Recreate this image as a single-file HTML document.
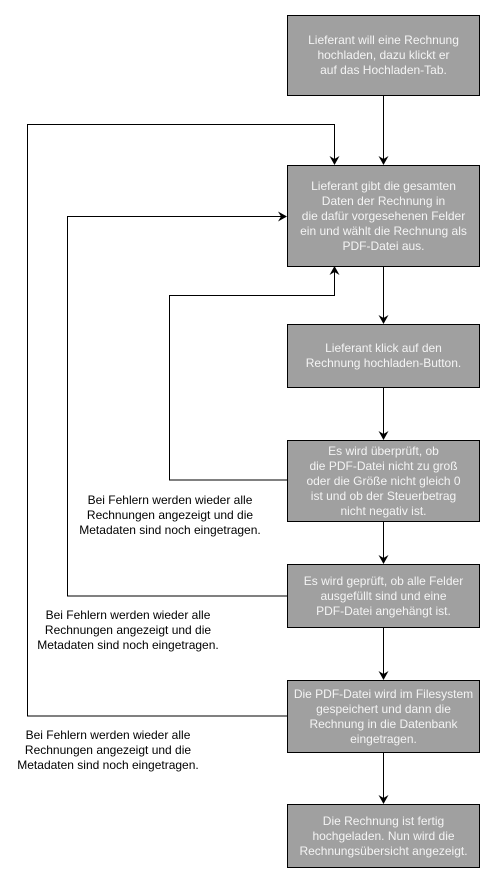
<!DOCTYPE html>
<html><head><meta charset="utf-8"><style>
body{margin:0;background:#fff;width:495px;height:883px;overflow:hidden;font-family:"Liberation Sans",sans-serif}
.b{position:absolute;left:287px;width:191px;background:#a0a0a0;border:1px solid #000;color:#f4f4f4;font-size:12px;line-height:15px;text-align:center;display:flex;align-items:center;justify-content:center}
.l{position:absolute;font-size:12px;line-height:15px;text-align:center;color:#000;width:240px}
</style></head><body>
<svg width="495" height="883" style="position:absolute;left:0;top:0">
<defs><marker id="a" markerWidth="10" markerHeight="10" refX="8" refY="5" orient="auto" markerUnits="userSpaceOnUse"><path d="M0,0 L9,5 L0,10 L3,5 Z" fill="#000"/></marker></defs>
<g stroke="#000" stroke-width="1" fill="none">
<path d="M383.5 95 V164" marker-end="url(#a)"/>
<path d="M383.5 266 V323" marker-end="url(#a)"/>
<path d="M383.5 387 V439" marker-end="url(#a)"/>
<path d="M383.5 521 V563" marker-end="url(#a)"/>
<path d="M383.5 627 V679" marker-end="url(#a)"/>
<path d="M383.5 752 V803" marker-end="url(#a)"/>
<path d="M287 716 H27.5 V124.5 H334.5 V164" marker-end="url(#a)"/>
<path d="M287 596 H67.5 V216.5 H286" marker-end="url(#a)"/>
<path d="M287 480 H169.5 V295.5 H334.5 V267" marker-end="url(#a)"/>
</g></svg>
<div class="b" style="top:15px;height:79px">Lieferant will eine Rechnung<br>hochladen, dazu klickt er<br>auf das Hochladen-Tab.</div>
<div class="b" style="top:165px;height:100px">Lieferant gibt die gesamten<br>Daten der Rechnung in<br>die dafür vorgesehenen Felder<br>ein und wählt die Rechnung als<br>PDF-Datei aus.</div>
<div class="b" style="top:324px;height:62px">Lieferant klick auf den<br>Rechnung hochladen-Button.</div>
<div class="b" style="top:440px;height:80px">Es wird überprüft, ob<br>die PDF-Datei nicht zu groß<br>oder die Größe nicht gleich 0<br>ist und ob der Steuerbetrag<br>nicht negativ ist.</div>
<div class="b" style="top:564px;height:62px">Es wird geprüft, ob alle Felder<br>ausgefüllt sind und eine<br>PDF-Datei angehängt ist.</div>
<div class="b" style="top:680px;height:71px">Die PDF-Datei wird im Filesystem<br>gespeichert und dann die<br>Rechnung in die Datenbank<br>eingetragen.</div>
<div class="b" style="top:804px;height:62px">Die Rechnung ist fertig<br>hochgeladen. Nun wird die<br>Rechnungsübersicht angezeigt.</div>
<div class="l" style="left:50px;top:493px">Bei Fehlern werden wieder alle<br>Rechnungen angezeigt und die<br>Metadaten sind noch eingetragen.</div>
<div class="l" style="left:8px;top:608px">Bei Fehlern werden wieder alle<br>Rechnungen angezeigt und die<br>Metadaten sind noch eingetragen.</div>
<div class="l" style="left:-12px;top:728px">Bei Fehlern werden wieder alle<br>Rechnungen angezeigt und die<br>Metadaten sind noch eingetragen.</div>
</body></html>
